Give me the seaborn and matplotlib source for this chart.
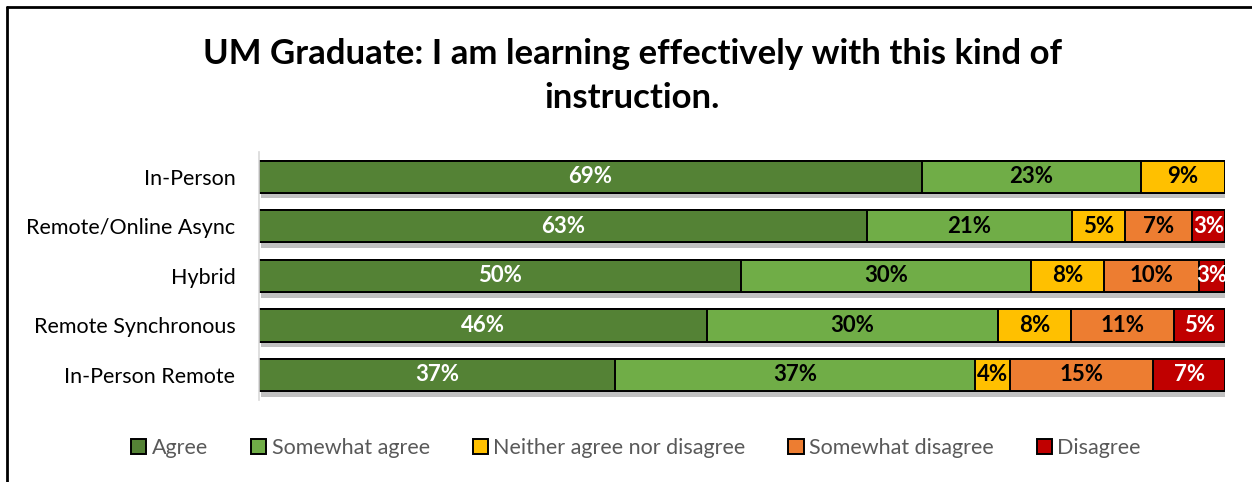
import matplotlib
matplotlib.use("Agg")
import matplotlib.pyplot as plt
import matplotlib.patheffects as pe
from matplotlib.patches import Patch
from matplotlib.lines import Line2D
import seaborn as sns
import pandas as pd
import numpy as np

categories = ["In-Person", "Remote/Online Async", "Hybrid", "Remote Synchronous", "In-Person Remote"]
series_names = ["Agree", "Somewhat agree", "Neither agree nor disagree", "Somewhat disagree", "Disagree"]
agree = [68.6, 62.9, 49.9, 46.4, 36.9]
somewhat_agree = [22.7, 21.3, 30.0, 30.1, 37.2]
neither = [8.7, 5.4, 7.6, 7.6, 3.6]
somewhat_disagree = [0.0, 7.0, 9.8, 10.6, 14.9]
disagree = [0.0, 3.4, 2.7, 5.3, 7.4]

colors = ["#548235", "#70AD47", "#FFC000", "#ED7D31", "#C00000"]
label_colors = ["white", "black", "black", "black", "white"]

sns.set_theme(style="white")
plt.rcParams["font.family"] = ["Lato", "DejaVu Sans"]
plt.rcParams["text.color"] = "black"

series = [agree, somewhat_agree, neither, somewhat_disagree, disagree]
df = pd.DataFrame({"category": categories})
cum = np.zeros(len(categories))
cums = []
for name, vals in zip(series_names, series):
    cum = cum + np.array(vals)
    df[name] = cum.copy()
    cums.append(cum.copy())

fig = plt.figure(figsize=(12.52, 4.82), dpi=100)
ax = fig.add_axes([0.2069, 0.1707, 0.7715, 0.5139])

shadow = [pe.withSimplePatchShadow(offset=(1.5, -4), shadow_rgbFace="#999999", alpha=0.6), pe.Normal()]
for idx in range(len(series_names) - 1, -1, -1):
    name = series_names[idx]
    sns.barplot(data=df, y="category", x=name, orient="h", color=colors[idx],
                saturation=1, width=0.65, edgecolor="black", linewidth=1.4, ax=ax)
    if idx == len(series_names) - 1:
        for p in ax.patches:
            p.set_path_effects(shadow)

for idx, vals in enumerate(series):
    right = cums[idx]
    for i, v in enumerate(vals):
        if v <= 0:
            continue
        cx = right[i] - v / 2
        ax.text(cx, i, f"{round(v):d}%", ha="center", va="center", fontsize=16,
                fontweight="bold", color=label_colors[idx], zorder=10)

ax.set_xlim(0, 100)
ax.set_ylim(4.5, -0.5)
ax.set_xlabel("")
ax.set_ylabel("")
ax.set_xticks([])
for s in ["top", "right", "bottom"]:
    ax.spines[s].set_visible(False)
ax.spines["left"].set_color("#d9d9d9")
ax.spines["left"].set_linewidth(1.2)
ax.tick_params(axis="y", labelsize=15.5, colors="black", length=0, pad=17)
for t in ax.get_yticklabels():
    t.set_color("#000000")

fig.text(0.505, 0.843, "UM Graduate: I am learning effectively with this kind of\ninstruction.",
         ha="center", va="center", fontsize=25, fontweight="bold", linespacing=1.45,
         color="black")

handles = [Patch(facecolor=c, edgecolor="black", linewidth=1.4) for c in colors]
leg = fig.legend(handles, series_names, loc="center", bbox_to_anchor=(0.508, 0.07), ncol=5,
                 frameon=False, fontsize=15.5, handlelength=0.7, handleheight=0.7,
                 handletextpad=0.25, columnspacing=2.0)
for t in leg.get_texts():
    t.set_color("#595959")

fig.add_artist(Line2D([0.0056, 0.0056], [0.0, 0.9855], transform=fig.transFigure, color="black", lw=2))
fig.add_artist(Line2D([0.0056, 1.0], [0.9855, 0.9855], transform=fig.transFigure, color="black", lw=2))

fig.savefig("out.png", dpi=100)
